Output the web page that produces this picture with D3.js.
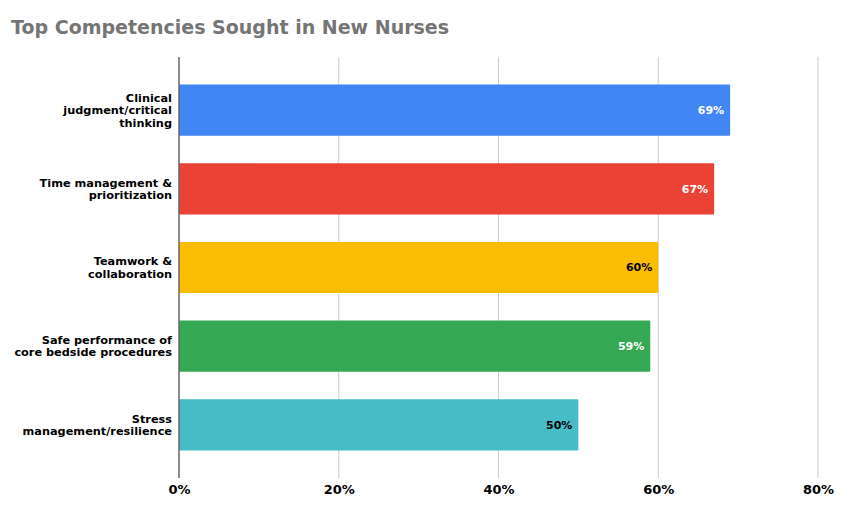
<!DOCTYPE html>
<html><head><meta charset="utf-8">
<script src="https://cdn.jsdelivr.net/npm/d3@7"></script>
<style>body{margin:0;background:#fff;}svg{display:block;}</style>
</head><body>
<svg id="c" width="854" height="514"></svg>
<script>
const title = "Top Competencies Sought in New Nurses";
const categories = [
  "Clinical\njudgment/critical\nthinking",
  "Time management &\nprioritization",
  "Teamwork &\ncollaboration",
  "Safe performance of\ncore bedside procedures",
  "Stress\nmanagement/resilience"
];
const values = [0.69, 0.67, 0.60, 0.59, 0.50];
const colors = ["#4285F4", "#EA4335", "#FBBC04", "#34A853", "#46BDC6"];
const labelColors = ["#ffffff", "#ffffff", "#000000", "#ffffff", "#000000"];
const ticks = [0, 0.2, 0.4, 0.6, 0.8];

const svg = d3.select("#c");
const font = "'DejaVu Sans', Verdana, sans-serif";
const x = d3.scaleLinear().domain([0, 0.8]).range([179, 818]);
const y = d3.scaleBand().domain(d3.range(categories.length)).range([57, 478]).paddingInner(0.35).paddingOuter(0.35);

svg.append("text").attr("x", 11).attr("y", 34).attr("font-family", font).attr("font-weight", "bold")
  .attr("font-size", 19).attr("fill", "#757575").text(title);

// gridlines
svg.append("g").selectAll("line").data(ticks.slice(1)).join("line")
  .attr("x1", d => x(d)).attr("x2", d => x(d)).attr("y1", 57).attr("y2", 478)
  .attr("stroke", "#cccccc").attr("stroke-width", 1);

// x axis
const xAxis = d3.axisBottom(x).tickValues(ticks).tickFormat(d3.format(".0%")).tickSize(0).tickPadding(7);
const gx = svg.append("g").attr("transform", "translate(0,478)").call(xAxis);
gx.select(".domain").remove();
gx.selectAll("text").attr("font-family", font).attr("font-weight", "bold").attr("font-size", 13).attr("fill", "#000");

// bars
svg.append("g").selectAll("rect").data(values).join("rect")
  .attr("x", x(0)).attr("y", (d, i) => y(i)).attr("width", d => x(d) - x(0)).attr("height", y.bandwidth())
  .attr("fill", (d, i) => colors[i]).attr("rx", 1);

// zero line
svg.append("line").attr("x1", x(0)).attr("x2", x(0)).attr("y1", 57).attr("y2", 478)
  .attr("stroke", "#666666").attr("stroke-width", 1.5);

// value labels
svg.append("g").selectAll("text").data(values).join("text")
  .attr("x", d => x(d) - 6).attr("y", (d, i) => y(i) + y.bandwidth() / 2)
  .attr("dy", "0.35em").attr("text-anchor", "end").attr("font-family", font).attr("font-weight", "bold")
  .attr("font-size", 11).attr("fill", (d, i) => labelColors[i]).text(d => d3.format(".0%")(d));

// category labels
const lh = 12.5;
svg.append("g").selectAll("text").data(categories).join("text")
  .attr("text-anchor", "end").attr("font-family", font).attr("font-weight", "bold").attr("font-size", 11.3).attr("fill", "#000")
  .each(function(d, i) {
    const lines = d.split("\n");
    const cy = y(i) + y.bandwidth() / 2;
    const t = d3.select(this);
    lines.forEach((ln, j) => {
      t.append("tspan").attr("x", 172).attr("y", cy + (j - (lines.length - 1) / 2) * lh).attr("dy", "0.35em").text(ln);
    });
  });
</script>
</body></html>
